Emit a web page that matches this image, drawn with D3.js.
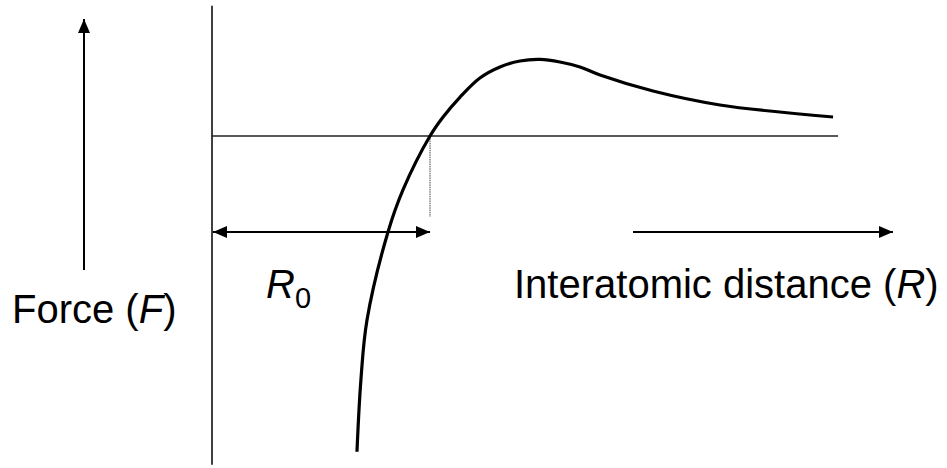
<!DOCTYPE html>
<html>
<head>
<meta charset="utf-8">
<script src="https://cdn.jsdelivr.net/npm/d3@7"></script>
<style>
  html, body { margin: 0; padding: 0; background: #fff; }
  svg { display: block; }
  text { font-family: "Liberation Sans", Arial, sans-serif; fill: #000; }
</style>
</head>
<body>
<svg id="chart" width="947" height="468"></svg>
<script>
// Interatomic distance R (in units of R0) and force F (relative to peak)
const distanceR = [0.665, 0.683, 0.711, 0.807, 0.876, 1.0, 1.060, 1.138, 1.229, 1.321, 1.413, 1.505, 1.596, 1.688, 1.780, 2.023, 2.330, 2.849];
const forceF    = [-4.10, -3.17, -2.39, -1.25, -0.70, 0.0, 0.247, 0.506, 0.753, 0.896, 0.974, 0.994, 0.961, 0.896, 0.792, 0.584, 0.403, 0.247];
const R0 = 1.0;
const rMax = 2.872;
const fTop = 1.69, fBottom = -4.27;
const labels = { force: "Force (", forceVar: "F", distance: "Interatomic distance (", distanceVar: "R", r0: "R", r0sub: "0" };

const svg = d3.select("#chart");
const x = d3.scaleLinear().domain([0, 1]).range([212, 430]);
const y = d3.scaleLinear().domain([0, 1]).range([136, 59]);

const defs = svg.append("defs");
function marker(id, orient) {
  defs.append("marker")
    .attr("id", id).attr("viewBox", "0 0 14 12")
    .attr("refX", 14).attr("refY", 6)
    .attr("markerWidth", 14).attr("markerHeight", 12)
    .attr("markerUnits", "userSpaceOnUse")
    .attr("orient", orient)
    .append("path").attr("d", "M0,0 L14,6 L0,12 Z").attr("fill", "#000");
}
marker("arrowEnd", "auto");
marker("arrowStart", "auto-start-reverse");

// Vertical axis
svg.append("line")
  .attr("x1", x(0)).attr("x2", x(0))
  .attr("y1", y(fTop)).attr("y2", y(fBottom))
  .attr("stroke", "#000").attr("stroke-width", 1.5);

// Horizontal zero-force line
svg.append("line")
  .attr("x1", x(0)).attr("x2", x(rMax))
  .attr("y1", y(0)).attr("y2", y(0))
  .attr("stroke", "#222").attr("stroke-width", 1.5);

// Dotted drop line at R0
svg.append("line")
  .attr("x1", x(R0)).attr("x2", x(R0))
  .attr("y1", y(0)).attr("y2", 217)
  .attr("stroke", "#444").attr("stroke-width", 1)
  .attr("stroke-dasharray", "1.5,0.8");

// Double-headed arrow for R0
svg.append("line")
  .attr("x1", x(0) + 1).attr("x2", x(R0))
  .attr("y1", 232).attr("y2", 232)
  .attr("stroke", "#000").attr("stroke-width", 2)
  .attr("marker-start", "url(#arrowStart)")
  .attr("marker-end", "url(#arrowEnd)");

// Right-pointing arrow (increasing R)
svg.append("line")
  .attr("x1", 633).attr("x2", 893)
  .attr("y1", 232).attr("y2", 232)
  .attr("stroke", "#000").attr("stroke-width", 2)
  .attr("marker-end", "url(#arrowEnd)");

// Up arrow (force)
svg.append("line")
  .attr("x1", 84).attr("x2", 84)
  .attr("y1", 270).attr("y2", 19)
  .attr("stroke", "#000").attr("stroke-width", 2)
  .attr("marker-end", "url(#arrowEnd)");

// Force curve
const pts = distanceR.map((r, i) => [r, forceF[i]]);
svg.append("path")
  .datum(pts)
  .attr("d", d3.line().x(d => x(d[0])).y(d => y(d[1])).curve(d3.curveCatmullRom.alpha(0.5)))
  .attr("fill", "none").attr("stroke", "#000").attr("stroke-width", 3.2)
  .attr("stroke-linecap", "butt");

// Labels
const tF = svg.append("text").attr("x", 12).attr("y", 323).attr("font-size", 40);
tF.append("tspan").text(labels.force);
tF.append("tspan").attr("font-style", "italic").text(labels.forceVar);
tF.append("tspan").text(")");

const tR = svg.append("text").attr("x", 514).attr("y", 298).attr("font-size", 40);
tR.append("tspan").text(labels.distance);
tR.append("tspan").attr("font-style", "italic").text(labels.distanceVar);
tR.append("tspan").text(")");

const t0 = svg.append("text").attr("x", 266).attr("y", 298).attr("font-size", 40);
t0.append("tspan").attr("font-style", "italic").text(labels.r0);
t0.append("tspan").attr("font-size", 29).attr("dy", 10).text(labels.r0sub);
</script>
</body>
</html>
